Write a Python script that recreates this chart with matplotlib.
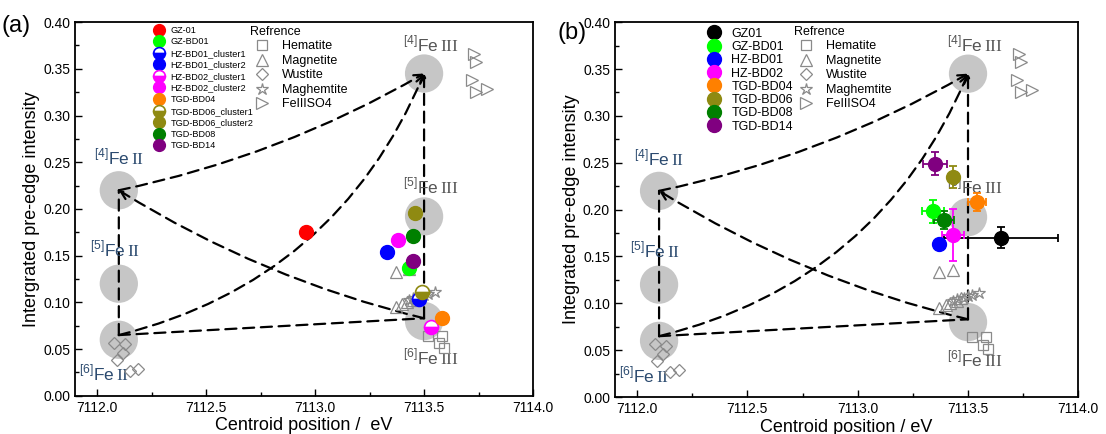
import matplotlib
matplotlib.use("Agg")
import matplotlib.pyplot as plt
from matplotlib.lines import Line2D

plt.rcParams['font.family'] = ['Liberation Sans', 'DejaVu Sans']
plt.rcParams['mathtext.fontset'] = 'custom'
plt.rcParams['mathtext.rm'] = 'Liberation Serif'
plt.rcParams['mathtext.sf'] = 'Liberation Sans'

# coordination centres (big grey discs)
site_x = [7112.1, 7112.1, 7112.1, 7113.5, 7113.5, 7113.5]
site_y = [0.22, 0.12, 0.06, 0.345, 0.192, 0.08]
site_lbl = ['[4]', '[5]', '[6]', '[4]', '[5]', '[6]']
site_ox = ['II', 'II', 'II', 'III', 'III', 'III']
lbl_x = [7112.1, 7112.08, 7112.03, 7113.53, 7113.53, 7113.53]
lbl_y = [0.255, 0.157, 0.024, 0.377, 0.225, 0.041]

# reference compounds
hem_x = [7113.52, 7113.58, 7113.57, 7113.59]
hem_y = [0.064, 0.064, 0.056, 0.051]
mag_x = [7113.37, 7113.43, 7113.37, 7113.40, 7113.42, 7113.45, 7113.47]
mag_y = [0.133, 0.136, 0.095, 0.098, 0.100, 0.103, 0.106]
wus_x = [7112.08, 7112.13, 7112.12, 7112.09, 7112.15, 7112.19]
wus_y = [0.057, 0.055, 0.046, 0.038, 0.027, 0.029]
mgh_x = [7113.43, 7113.45, 7113.48, 7113.50, 7113.52, 7113.55]
mgh_y = [0.103, 0.105, 0.106, 0.108, 0.109, 0.111]
so4_x = [7113.73, 7113.74, 7113.72, 7113.74, 7113.79]
so4_y = [0.366, 0.357, 0.338, 0.325, 0.328]

# panel (a) samples
names_a = ['GZ-01', 'GZ-BD01', 'HZ-BD01_cluster1', 'HZ-BD01_cluster2',
           'HZ-BD02_cluster1', 'HZ-BD02_cluster2', 'TGD-BD04',
           'TGD-BD06_cluster1', 'TGD-BD06_cluster2', 'TGD-BD08', 'TGD-BD14']
x_a = [7112.96, 7113.43, 7113.475, 7113.33, 7113.53, 7113.38, 7113.58,
       7113.49, 7113.46, 7113.45, 7113.45]
y_a = [0.175, 0.137, 0.104, 0.154, 0.074, 0.167, 0.083, 0.111, 0.196,
       0.171, 0.144]
col_a = ['#ff0000', '#00ff00', '#0000ff', '#0000ff', '#ff00ff', '#ff00ff',
         '#ff8000', '#8f8a12', '#8f8a12', '#008000', '#800080']
half_a = [False, False, True, False, True, False, False, True, False,
          False, False]

# panel (b) samples with error bars
names_b = ['GZ01', 'GZ-BD01', 'HZ-BD01', 'HZ-BD02', 'TGD-BD04', 'TGD-BD06',
           'TGD-BD08', 'TGD-BD14']
x_b = [7113.65, 7113.34, 7113.37, 7113.43, 7113.54, 7113.43, 7113.39, 7113.35]
y_b = [0.170, 0.198, 0.163, 0.173, 0.208, 0.235, 0.189, 0.249]
xerr_b = [0.26, 0.05, 0.0, 0.05, 0.04, 0.0, 0.045, 0.055]
yerr_b = [0.011, 0.012, 0.0, 0.028, 0.010, 0.012, 0.010, 0.012]
col_b = ['#000000', '#00ff00', '#0000ff', '#ff00ff', '#ff8000', '#8f8a12',
         '#008000', '#800080']

fig = plt.figure(figsize=(11.06, 4.34), dpi=100)
ax_a = fig.add_axes([0.068, 0.088, 0.414, 0.861])
ax_b = fig.add_axes([0.556, 0.085, 0.419, 0.864])

# tail -> head, curvature
arrows = [
    ((7112.1, 0.065), (7112.1, 0.22), 0.0, '-'),
    ((7113.5, 0.083), (7112.1, 0.22), -0.08, '->'),
    ((7112.1, 0.22), (7113.5, 0.345), 0.08, '->'),
    ((7112.1, 0.065), (7113.5, 0.345), 0.25, '->'),
    ((7112.1, 0.065), (7113.5, 0.083), 0.0, '-'),
    ((7113.5, 0.083), (7113.5, 0.345), 0.0, '->'),
]


def base(ax, ylabel, xlabel):
    ax.scatter(site_x, site_y, s=760, color='#c6c6c6', edgecolors='none',
               zorder=1)
    for tail, head, rad, st in arrows:
        ax.annotate('', xy=head, xytext=tail,
                    arrowprops=dict(arrowstyle=st, linestyle=(0, (5, 3)),
                                    lw=1.6, color='black', shrinkA=0,
                                    shrinkB=0, mutation_scale=14,
                                    connectionstyle='arc3,rad=%g' % rad),
                    zorder=2)
    for i in range(len(site_x)):
        c = '#2b4a6f' if site_ox[i] == 'II' else '#555555'
        ax.text(lbl_x[i], lbl_y[i],
                r'$^{\mathsf{%s}}\mathsf{Fe}\,\mathrm{%s}$' % (site_lbl[i], site_ox[i]),
                color=c, fontsize=12.5, ha='center', va='center', zorder=3)
    ms = dict(linestyle='none', mfc='none', mec='#8a8a8a', mew=0.9, zorder=3)
    ax.plot(hem_x, hem_y, marker='s', ms=7, **ms)
    ax.plot(mag_x, mag_y, marker='^', ms=8, **ms)
    ax.plot(wus_x, wus_y, marker='D', ms=6, **ms)
    ax.plot(mgh_x, mgh_y, marker='*', ms=9, **ms)
    ax.plot(so4_x, so4_y, marker='>', ms=8, **ms)

    ax.set_xlim(7111.9, 7114.0)
    ax.set_ylim(0, 0.40)
    ax.set_xticks([7112.0, 7112.5, 7113.0, 7113.5, 7114.0])
    ax.set_xticks([7112.25, 7112.75, 7113.25, 7113.75], minor=True)
    ax.set_yticks([0.0, 0.05, 0.10, 0.15, 0.20, 0.25, 0.30, 0.35, 0.40])
    ax.set_yticks([0.025 + 0.05 * k for k in range(8)], minor=True)
    ax.set_xticklabels(['7112.0', '7112.5', '7113.0', '7113.5', '7114.0'])
    ax.set_yticklabels(['%.2f' % v for v in ax.get_yticks()])
    ax.tick_params(which='both', direction='in', top=False, right=False,
                   labelsize=10)
    ax.tick_params(which='major', length=5, width=1)
    ax.tick_params(which='minor', length=3, width=1)
    for sp in ax.spines.values():
        sp.set_linewidth(1.3)
    ax.set_ylabel(ylabel, fontsize=13, labelpad=2)
    ax.set_xlabel(xlabel, fontsize=13, labelpad=2)

    ref_h = [Line2D([], [], marker=m, ms=s, linestyle='none', mfc='none',
                    mec='#8a8a8a', mew=0.9)
             for m, s in [('s', 7), ('^', 8), ('D', 6), ('*', 9), ('>', 8)]]
    return ref_h


ref_names = ['Hematite', 'Magnetite', 'Wustite', 'Maghemtite', 'FeIIISO4']

# panel (a)
ref_h = base(ax_a, 'Intergrated pre-edge intensity', 'Centroid position /  eV')
h_a = []
for i in range(len(x_a)):
    if half_a[i]:
        h, = ax_a.plot(x_a[i], y_a[i], marker='o', ms=10, linestyle='none',
                       fillstyle='bottom', mfc=col_a[i], mfcalt='white',
                       mec=col_a[i], mew=1.2, zorder=5)
    else:
        h, = ax_a.plot(x_a[i], y_a[i], marker='o', ms=10, linestyle='none',
                       color=col_a[i], zorder=5)
    h_a.append(h)
leg1 = ax_a.legend(h_a, names_a, loc='upper left', bbox_to_anchor=(0.15, 1.005),
                   fontsize=6.6, frameon=False, markerscale=0.85,
                   handletextpad=0.3, labelspacing=0.28, borderpad=0.1)
ax_a.add_artist(leg1)
leg2 = ax_a.legend(ref_h, ref_names, loc='upper left',
                   bbox_to_anchor=(0.365, 1.01), fontsize=9, frameon=False,
                   title='Refrence', title_fontsize=9, alignment='left',
                   handletextpad=0.6, labelspacing=0.2, borderpad=0.1)
ax_a.text(-0.16, 0.99, '(a)', transform=ax_a.transAxes, fontsize=17,
          va='center', ha='left')

# panel (b)
ref_h = base(ax_b, 'Integrated pre-edge intensity', 'Centroid position / eV')
h_b = []
for i in range(len(x_b)):
    xe = xerr_b[i] if xerr_b[i] > 0 else None
    ye = yerr_b[i] if yerr_b[i] > 0 else None
    ax_b.errorbar(x_b[i], y_b[i], xerr=xe, yerr=ye, fmt='none',
                  ecolor=col_b[i], elinewidth=1.3, capsize=3, capthick=1.3,
                  zorder=4)
    h, = ax_b.plot(x_b[i], y_b[i], marker='o', ms=10, linestyle='none',
                   color=col_b[i], zorder=5)
    h_b.append(h)
leg3 = ax_b.legend(h_b, names_b, loc='upper left', bbox_to_anchor=(0.17, 1.005),
                   fontsize=9, frameon=False, markerscale=1.0,
                   handletextpad=0.4, labelspacing=0.1, borderpad=0.1)
ax_b.add_artist(leg3)
leg4 = ax_b.legend(ref_h, ref_names, loc='upper left',
                   bbox_to_anchor=(0.37, 1.01), fontsize=9, frameon=False,
                   title='Refrence', title_fontsize=9, alignment='left',
                   handletextpad=0.6, labelspacing=0.2, borderpad=0.1)
ax_b.text(-0.125, 0.97, '(b)', transform=ax_b.transAxes, fontsize=17,
          va='center', ha='left')

fig.savefig('out.png', dpi=100)
